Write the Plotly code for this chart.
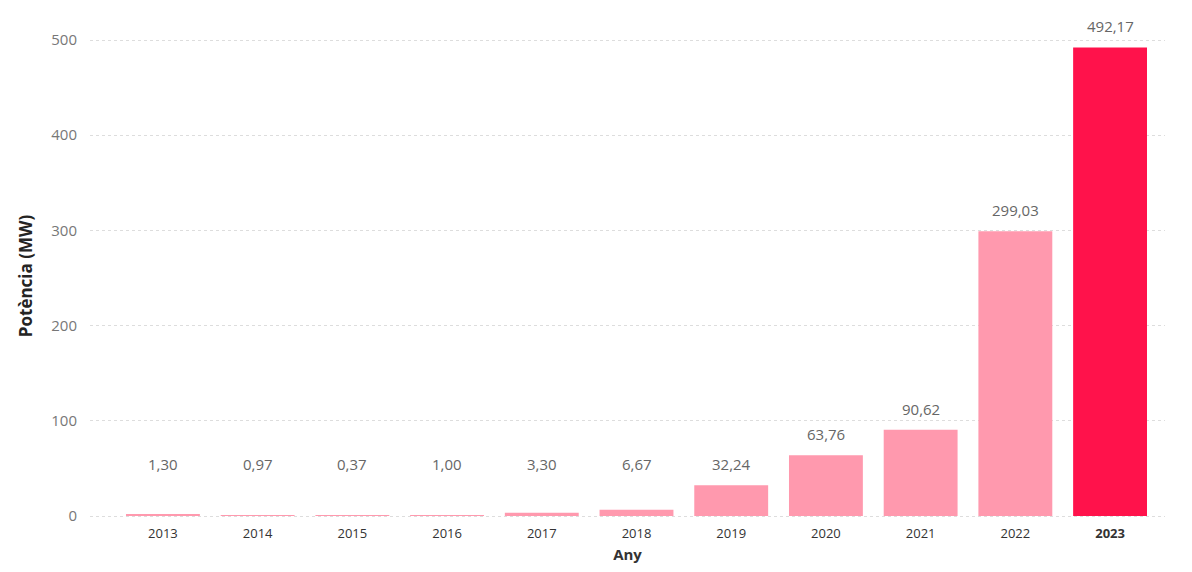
import plotly.graph_objects as go

years = ["2013", "2014", "2015", "2016", "2017", "2018", "2019", "2020", "2021", "2022", "2023"]
power_mw = [1.30, 0.97, 0.37, 1.00, 3.30, 6.67, 32.24, 63.76, 90.62, 299.03, 492.17]
y_ticks = [0, 100, 200, 300, 400, 500]

light = "#FF99AE"
strong = "#FF124B"
colors = [strong if y == "2023" else light for y in years]
labels = [f"{v:.2f}".replace(".", ",") for v in power_mw]
tick_text = [f"<b>{y}</b>" if y == "2023" else y for y in years]
label_floor = 32.24  # small bars keep their labels at the height of the 2019 label

fig = go.Figure(go.Bar(
    x=years, y=power_mw, marker=dict(color=colors, line=dict(width=0)),
    width=0.78, hoverinfo="x+y",
))

for i, (v, t) in enumerate(zip(power_mw, labels)):
    fig.add_annotation(
        x=i, y=max(v, label_floor), text=t, showarrow=False,
        yanchor="middle", yshift=21,
        font=dict(family="Open Sans, sans-serif", size=15, color="#666666"),
    )

fig.update_layout(
    width=1192, height=572,
    margin=dict(l=90, r=27, t=30, b=50),
    plot_bgcolor="white", paper_bgcolor="white",
    font=dict(family="Open Sans, sans-serif"),
    showlegend=False,
    xaxis=dict(
        type="category", range=[-0.77, 10.58],
        tickmode="array", tickvals=years, ticktext=tick_text,
        tickfont=dict(size=13, color="#333333"),
        showgrid=False, zeroline=False, showline=False, ticks="",
        ticklabelstandoff=2,
        title=dict(text="<b>Any</b>", font=dict(size=15, color="#333333"), standoff=8),
    ),
    yaxis=dict(
        range=[-6.3, 510.5], tickvals=y_ticks,
        tickfont=dict(size=15, color="#777777"),
        showgrid=True, gridcolor="#DDDDDD", griddash="dot", gridwidth=1,
        zeroline=False, showline=False, ticks="", ticklabelstandoff=12,
        title=dict(text="<b>Potència (MW)</b>", font=dict(size=17, color="#252423"), standoff=14),
    ),
)

fig.write_html("out.html")
